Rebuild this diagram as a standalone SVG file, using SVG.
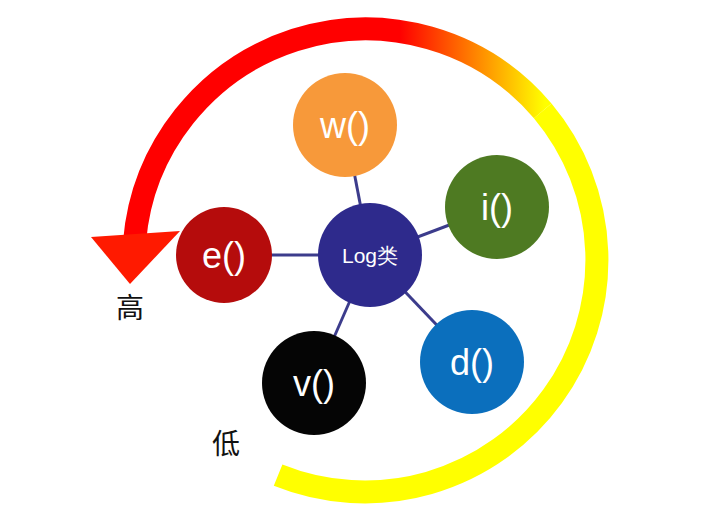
<svg xmlns="http://www.w3.org/2000/svg" width="726" height="519" viewBox="0 0 726 519">
<style>
.n{font-family:"Liberation Sans",Arial,sans-serif;fill:#fff;text-anchor:middle}
.big{font-size:36px}
.cj{font-family:"Liberation Sans","Noto Sans CJK SC",sans-serif;font-size:28px;fill:#111;text-anchor:middle}
</style>
<defs>
<linearGradient id="g" gradientUnits="userSpaceOnUse" x1="545" y1="0" x2="400" y2="0">
<stop offset="0" stop-color="#ffff00"/><stop offset="0.45" stop-color="#ff8c00"/><stop offset="1" stop-color="#ff0000"/>
</linearGradient>
</defs>
<rect width="726" height="519" fill="#fff"/>
<g id="arc">
<path d="M278.1 475.1 A232 232 0 0 0 542.7 110.9" fill="none" stroke="#ffff00" stroke-width="23"/>
<path d="M542.7 110.9 A232 232 0 0 0 134.5 242" fill="none" stroke="url(#g)" stroke-width="23"/>
<polygon points="91,237 180,231 130,284" fill="#ff1a00"/>
</g>
<g id="connectors" stroke="#3c3c8c" stroke-width="3">
<line x1="370" y1="255" x2="345" y2="125"/>
<line x1="370" y1="255" x2="497" y2="207"/>
<line x1="370" y1="255" x2="472" y2="362"/>
<line x1="370" y1="255" x2="314" y2="383"/>
<line x1="370" y1="255" x2="224" y2="255"/>
</g>
<g id="w"><circle cx="345" cy="125" r="52" fill="#f7993a"/><text class="n big" x="345" y="138">w()</text></g>
<g id="i"><circle cx="497" cy="207" r="52" fill="#4e7a22"/><text class="n big" x="497" y="220">i()</text></g>
<g id="d"><circle cx="472" cy="362" r="52" fill="#0b6fbd"/><text class="n big" x="472" y="375">d()</text></g>
<g id="v"><circle cx="314" cy="383" r="52" fill="#050505"/><text class="n big" x="314" y="396">v()</text></g>
<g id="e"><circle cx="224" cy="255" r="48" fill="#b50c0c"/><text class="n big" x="224" y="268">e()</text></g>
<g id="log"><circle cx="370" cy="255" r="52" fill="#2e2a8c"/><text class="n" x="370" y="263" font-size="21" font-family="Liberation Sans,Noto Sans CJK SC,sans-serif">Log类</text></g>
<text class="cj" x="130" y="318">高</text>
<text class="cj" x="226" y="454">低</text>
</svg>
